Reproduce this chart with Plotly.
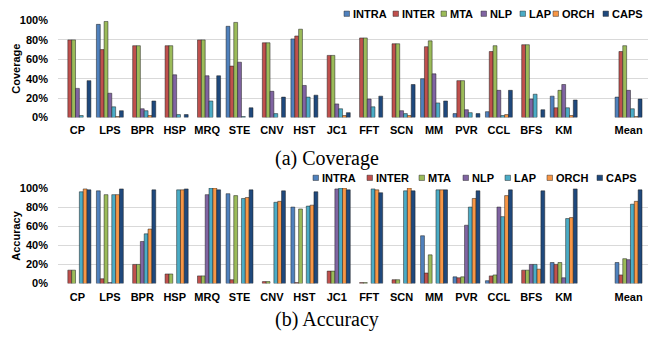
import plotly.graph_objects as go

categories = ["CP", "LPS", "BPR", "HSP", "MRQ", "STE", "CNV", "HST", "JC1",
              "FFT", "SCN", "MM", "PVR", "CCL", "BFS", "KM", "Mean"]
slots = list(range(16)) + [17]  # one empty slot before "Mean"
series = ["INTRA", "INTER", "MTA", "NLP", "LAP", "ORCH", "CAPS"]
colors = ["#4F81BD", "#C0504D", "#9BBB59", "#8064A2", "#4BACC6", "#F79646", "#1F497D"]

cov_intra = [0, 96, 0, 0, 0, 94, 0, 81, 0, 0, 0, 40, 4, 6, 0, 22, 21]
cov_inter = [80, 70, 74, 74, 80, 53, 77, 84, 64, 82, 76, 73, 38, 68, 75, 10, 68]
cov_mta = [80, 99, 74, 74, 80, 98, 77, 91, 64, 82, 76, 79, 38, 74, 75, 28, 74]
cov_nlp = [30, 25, 9, 44, 43, 57, 27, 33, 14, 19, 7, 45, 8, 28, 19, 34, 28]
cov_lap = [2, 11, 7, 3, 17, 1, 4, 21, 9, 11, 4, 15, 5, 2, 24, 10, 9]
cov_orch = [0, 1, 2, 0, 0, 0, 0, 0, 2, 0, 2, 0, 0, 3, 0, 2, 1]
cov_caps = [38, 7, 17, 3, 43, 10, 21, 23, 5, 22, 34, 17, 4, 28, 8, 18, 19]

acc_intra = [0, 97, 0, 0, 0, 94, 0, 80, 0, 0, 0, 50, 7, 3, 0, 22, 22]
acc_inter = [14, 5, 20, 10, 8, 4, 2, 1, 13, 1, 4, 11, 6, 8, 14, 20, 9]
acc_mta = [14, 93, 20, 10, 8, 92, 2, 78, 13, 1, 4, 30, 7, 9, 14, 22, 26]
acc_nlp = [0, 1, 44, 0, 93, 0, 0, 0, 99, 0, 0, 0, 61, 80, 20, 6, 25]
acc_lap = [96, 93, 52, 98, 100, 89, 85, 81, 100, 99, 97, 98, 80, 70, 20, 68, 83]
acc_orch = [99, 93, 57, 98, 100, 90, 86, 82, 100, 98, 100, 98, 89, 92, 15, 69, 86]
acc_caps = [98, 99, 98, 99, 98, 98, 97, 96, 98, 95, 97, 98, 97, 98, 97, 99, 98]

y_ticks = [0, 20, 40, 60, 80, 100]
y_tick_text = ["0%", "20%", "40%", "60%", "80%", "100%"]

coverage = [cov_intra, cov_inter, cov_mta, cov_nlp, cov_lap, cov_orch, cov_caps]
accuracy = [acc_intra, acc_inter, acc_mta, acc_nlp, acc_lap, acc_orch, acc_caps]

W, H = 652, 346
SANS = "Liberation Sans, Arial, sans-serif"
SERIF = "Liberation Serif, Times New Roman, serif"

fig = go.Figure()

for vals_set, yax in ((coverage, "y"), (accuracy, "y2")):
    for name, col, vals in zip(series, colors, vals_set):
        fig.add_trace(go.Bar(
            x=slots, y=[v if v > 0 else None for v in vals], name=name,
            marker=dict(color=col, line=dict(color="rgba(30,30,30,0.85)", width=0.6)),
            xaxis="x" if yax == "y" else "x2", yaxis=yax, showlegend=False,
            hoverinfo="skip",
        ))

def px_x(p):
    return p / W

def px_y(p):
    return 1 - p / H

xdom = [px_x(58), px_x(648)]
axis_x = dict(domain=xdom, range=[-0.6, 17.6], tickmode="array", tickvals=slots,
              ticktext=categories, showgrid=False, zeroline=False, showline=False,
              ticks="", ticklabelstandoff=5,
              tickfont=dict(family=SANS, size=11, color="black", weight="bold"))
axis_y = dict(range=[0, 100], tickmode="array", tickvals=y_ticks, ticktext=y_tick_text,
              showgrid=True, gridcolor="#D9D9D9", gridwidth=1, zeroline=False,
              showline=False, ticklabelstandoff=9,
              tickfont=dict(family=SANS, size=11, color="black", weight="bold"))

fig.update_layout(
    width=W, height=H, margin=dict(l=0, r=0, t=0, b=0),
    paper_bgcolor="white", plot_bgcolor="white",
    barmode="group", bargap=0.17, bargroupgap=0,
    xaxis=dict(axis_x, anchor="y"),
    xaxis2=dict(axis_x, anchor="y2"),
    yaxis=dict(axis_y, domain=[px_y(115.5), px_y(15)], anchor="x"),
    yaxis2=dict(axis_y, domain=[px_y(287.5), px_y(188.5)], anchor="x2"),
)

annotations = []
shapes = []
# y-axis titles
for text, yc in (("Coverage", 65), ("Accuracy", 238)):
    annotations.append(dict(text=text, x=px_x(16), y=px_y(yc), xref="paper", yref="paper",
                            xanchor="center", yanchor="middle",
                            textangle=-90, showarrow=False,
                            font=dict(family=SANS, size=11, color="black", weight="bold")))
# captions
for text, yc in (("(a) Coverage", 158), ("(b) Accuracy", 325)):
    annotations.append(dict(text=text, x=px_x(327), y=px_y(yc), xref="paper", yref="paper",
                            xanchor="center", yanchor="middle",
                            showarrow=False, font=dict(family=SERIF, size=20, color="black")))

# custom compact legends
legend_rows = [
    (8, [344, 393, 441, 481, 520, 553, 603]),
    (178, [313, 367, 419, 463, 505, 547, 597]),
]
sym = 5.5
for yc, lefts in legend_rows:
    for name, col, xl in zip(series, colors, lefts):
        shapes.append(dict(type="rect", xref="paper", yref="paper",
                           x0=px_x(xl), x1=px_x(xl + sym),
                           y0=px_y(yc + sym / 2), y1=px_y(yc - sym / 2),
                           fillcolor=col, line=dict(color="rgba(40,40,40,0.8)", width=0.6)))
        annotations.append(dict(text=name, x=px_x(xl + sym + 1.5), y=px_y(yc),
                                xref="paper", yref="paper", xanchor="left", yanchor="middle",
                                showarrow=False,
                                font=dict(family=SANS, size=11, color="black", weight="bold")))

fig.update_layout(annotations=annotations, shapes=shapes)
fig.write_html("out.html", config={"displayModeBar": False},
               post_script="document.body.style.margin='0';document.body.style.overflow='hidden';")
